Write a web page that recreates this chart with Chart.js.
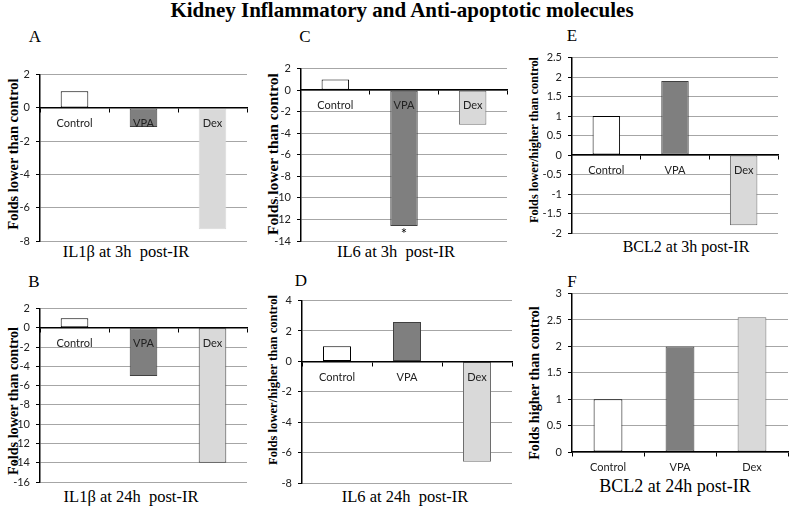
<!DOCTYPE html>
<html>
<head>
<meta charset="utf-8">
<script src="https://cdn.jsdelivr.net/npm/chart.js@4.4.0/dist/chart.umd.min.js"></script>
<style>
  body { margin: 0; background: #fff; }
  #page { position: relative; width: 790px; height: 508px; overflow: hidden; }
  canvas { position: absolute; }
  .txt { position: absolute; font-family: "Liberation Serif", serif; color: #000; white-space: pre; transform: translate(-50%, -50%); line-height: 1.15; }
  .ytl { position: absolute; font-family: "Liberation Serif", serif; font-weight: bold; color: #000; white-space: pre; transform: translate(-50%, -50%) rotate(-90deg); line-height: 1; }
  .main { font-size: 21px; font-weight: bold; }
  .letter { font-size: 17px; }
  .sub { font-size: 16.5px; }
</style>
</head>
<body>
<div id="page">
  <div class="txt main" style="left:402px;top:10px">Kidney Inflammatory and Anti-apoptotic molecules</div>

  <div class="txt letter" style="left:35px;top:37px">A</div>
  <div class="txt letter" style="left:34px;top:282px">B</div>
  <div class="txt letter" style="left:305px;top:37px">C</div>
  <div class="txt letter" style="left:301px;top:281px">D</div>
  <div class="txt letter" style="left:572px;top:36px">E</div>
  <div class="txt letter" style="left:572px;top:282px">F</div>

  <div class="txt sub" style="left:126px;top:252px">IL1β at 3h  post-IR</div>
  <div class="txt sub" style="left:131px;top:497px">IL1β at 24h  post-IR</div>
  <div class="txt sub" style="left:396px;top:252px">IL6 at 3h  post-IR</div>
  <div class="txt sub" style="left:405px;top:497px">IL6 at 24h  post-IR</div>
  <div class="txt sub" style="left:686px;top:247px;font-size:16px">BCL2 at 3h post-IR</div>
  <div class="txt sub" style="left:675px;top:486px;font-size:18px">BCL2 at 24h post-IR</div>

  <!-- tieu de truc y -->
  <div class="ytl" style="left:13px;top:154px;font-size:14.5px">Folds lower than control</div>
  <div class="ytl" style="left:13px;top:401px;font-size:14.2px">Folds lower than control</div>
  <div class="ytl" style="left:273px;top:154px;font-size:15.5px">Folds lower than control</div>
  <div class="ytl" style="left:273px;top:380px;font-size:12.6px">Folds lower/higher than control</div>
  <div class="ytl" style="left:534px;top:140px;font-size:12.3px">Folds lower/higher than control</div>
  <div class="ytl" style="left:534px;top:383px;font-size:14.2px">Folds higher than control</div>
</div>

<script>
// so lieu doc tu hinh
const categories = ['Control', 'VPA', 'Dex'];

const il1b3h = [1, -1.15, -7.3];
const il1b24h = [1, -5, -14];
const il6_3h = [1, -12.6, -3.2];
const il6_24h = [1, 2.6, -6.6];
const bcl2_3h = [1, 1.9, -1.8];
const bcl2_24h = [1, 2, 2.55];

// min, max, step cua truc y
const il1b3hAxis = [-8, 2, 2];
const il1b24hAxis = [-16, 2, 2];
const il6_3hAxis = [-14, 2, 2];
const il6_24hAxis = [-8, 4, 2];
const bcl2_3hAxis = [-2, 2.5, 0.5];
const bcl2_24hAxis = [0, 3, 0.5];

const il6_3hMarks = ['', '*', ''];

const barFill = ['#ffffff', '#7f7f7f', '#d9d9d9'];

// ve dau * duoi cot
const markPlugin = {
  id: 'marks',
  afterDatasetsDraw(chart, args, opts) {
    if (!opts.marks) return;
    const meta = chart.getDatasetMeta(0);
    const ctx = chart.ctx;
    ctx.save();
    ctx.font = '15px Lato';
    ctx.fillStyle = '#000';
    ctx.textAlign = 'center';
    ctx.textBaseline = 'top';
    opts.marks.forEach((m, i) => {
      if (m) ctx.fillText(m, meta.data[i].x, meta.data[i].y + 1);
    });
    ctx.restore();
  }
};

function makePanel(p) {
  const page = document.getElementById('page');
  const cv = document.createElement('canvas');
  const [bl, bt, br, bb] = p.box;
  const [pl, pt, pr, pb] = p.plot;
  cv.width = br - bl;
  cv.height = bb - bt;
  cv.style.left = bl + 'px';
  cv.style.top = bt + 'px';
  page.appendChild(cv);

  const yw = pl - bl;
  return new Chart(cv.getContext('2d'), {
    type: 'bar',
    data: {
      labels: categories,
      datasets: [{
        data: p.data,
        backgroundColor: barFill,
        borderColor: ['#000000', '#404040', p.dexBorder],
        borderWidth: 1,
        borderSkipped: false,
        barPercentage: 0.4,
        categoryPercentage: 1
      }]
    },
    options: {
      responsive: false,
      animation: false,
      layout: { padding: { left: 0, top: pt - bt, right: br - pr, bottom: bb - pb } },
      plugins: {
        legend: { display: false },
        tooltip: { enabled: false },
        marks: { marks: p.marks }
      },
      scales: {
        x: {
          position: { y: 0 },
          grid: { drawOnChartArea: false, drawTicks: true, tickLength: 4, tickColor: '#000', offset: true, z: 1 },
          border: { color: '#000', width: 1.5, z: 1 },
          ticks: { font: { family: 'Lato', size: 11 }, color: '#222', padding: 5, maxRotation: 0, z: 1 }
        },
        y: {
          min: p.axis[0],
          max: p.axis[1],
          afterFit: s => { s.width = yw; },
          grid: { color: '#a6a6a6', tickColor: '#000', tickLength: 4 },
          border: { color: '#000', width: 1.5 },
          ticks: {
            stepSize: p.axis[2],
            font: { family: 'Lato', size: 11 },
            color: '#222',
            padding: 6,
            callback: v => String(Math.round(v * 100) / 100)
          }
        }
      }
    },
    plugins: [markPlugin]
  });
}

makePanel({ data: il1b3h, axis: il1b3hAxis,
  box: [0, 62, 250, 271], plot: [40, 74, 247, 241], dexBorder: '#d9d9d9' });
makePanel({ data: il1b24h, axis: il1b24hAxis,
  box: [0, 296, 250, 508], plot: [40, 308, 247, 482], dexBorder: '#404040' });
makePanel({ data: il6_3h, axis: il6_3hAxis, marks: il6_3hMarks,
  box: [262, 56, 510, 271], plot: [301, 68, 507, 241], dexBorder: '#6e6e6e' });
makePanel({ data: il6_24h, axis: il6_24hAxis,
  box: [262, 288, 515, 508], plot: [302, 300, 512, 483], dexBorder: '#6e6e6e' });
makePanel({ data: bcl2_3h, axis: bcl2_3hAxis,
  box: [522, 45, 781, 263], plot: [572, 57, 778, 233], dexBorder: '#6e6e6e' });
makePanel({ data: bcl2_24h, axis: bcl2_24hAxis,
  box: [522, 281, 790, 490], plot: [572, 293, 788, 452], dexBorder: '#6e6e6e' });
</script>
</body>
</html>
